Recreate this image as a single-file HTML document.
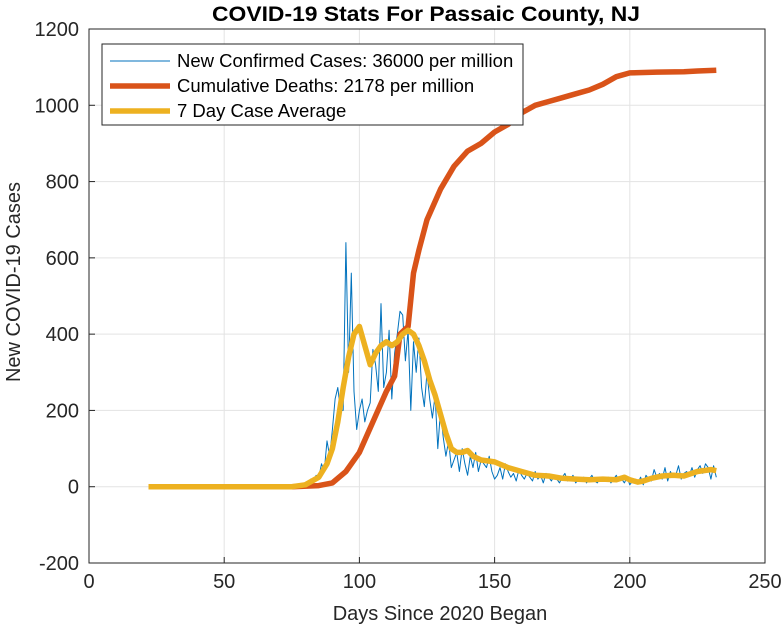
<!DOCTYPE html>
<html><head><meta charset="utf-8"><style>
html,body{margin:0;padding:0;background:#fff;}
svg{display:block;font-family:"Liberation Sans",Arial,sans-serif;}
</style></head><body>
<svg id="chart" width="784" height="630" viewBox="0 0 784 630"></svg>
<script>
// ---- data ----
const xTicks = [0, 50, 100, 150, 200, 250];
const yTicks = [-200, 0, 200, 400, 600, 800, 1000, 1200];
const caseStartDay = 22;
const cases = new Array(54).fill(0).concat([
0,2,5,3,8, 10,20,15,30,25, 60,40,120,80,150, 230,260,200,200,640,
300,560,250,150,200, 230,170,200,220,360, 320,250,480,260,300, 410,230,350,400,460,
450,330,410,200,380, 300,390,260,210,300, 230,180,240,100,200, 130,80,120,50,70,
90,40,100,60,30, 80,50,90,40,70, 60,50,80,40,20,
30,50,20,60,40,25,35,15,45,30, 20,35,25,15,40,20,30,10,35,25,
15,30,20,10,25,35,15,20,30,10, 20,15,25,10,20,30,15,10,25,20,
15,25,10,20,30,15,20,10,25,5, 15,20,10,25,5,30,20,15,45,25,
35,20,50,15,40,25,30,55,20,35, 40,30,50,25,45,55,35,60,50,20,55,25]);
const avgDays = [22,75,80,85,88,90,92,94,96,98,100,102,104,106,108,110,112,114,116,118,120,122,124,126,128,130,132,134,136,138,140,142,145,150,155,160,165,170,175,180,185,190,195,198,200,203,205,208,212,216,220,225,230,232];
const avgVals = [0,0,5,25,60,100,170,260,340,400,420,370,320,350,370,380,370,380,400,410,400,370,330,280,240,190,140,100,90,90,95,80,70,65,50,40,30,28,22,20,18,20,18,25,18,12,15,22,28,30,28,40,45,42];
const deathDays = [22,75,85,90,95,100,105,110,113,115,118,120,122,125,130,135,140,145,150,155,160,165,170,175,180,185,190,195,200,210,220,225,232];
const deathVals = [0,0,3,10,40,90,170,250,290,400,420,560,620,700,780,840,880,900,930,950,980,1000,1010,1020,1030,1040,1055,1075,1085,1087,1088,1090,1092];

// ---- axes ----
const L=89,R=765,T=29,B=563;
const xS=d=>L+(d-0)/(250-0)*(R-L);
const yS=v=>B-(v-(-200))/(1200-(-200))*(B-T);
const NS="http://www.w3.org/2000/svg";
const svg=document.getElementById('chart');
function mk(tag,attrs,parent){const e=document.createElementNS(NS,tag);for(const k in attrs)e.setAttribute(k,attrs[k]);(parent||svg).appendChild(e);return e;}

const bg=mk('rect',{x:L,y:T,width:R-L,height:B-T,fill:'#fff'});



xTicks.forEach(t=>{
  const g=mk('line',{x1:xS(t),x2:xS(t),y1:T,y2:B,stroke:'#e3e3e3','stroke-width':1});
  
  
  const tk=mk('line',{x1:xS(t),x2:xS(t),y1:B,y2:B-6,stroke:'#262626'});
  
  
  const tx=mk('text',{x:xS(t),y:B+25,'text-anchor':'middle','font-size':20,fill:'#262626'});
  tx.textContent=t;
  
  
});
yTicks.forEach(t=>{
  const g=mk('line',{x1:L,x2:R,y1:yS(t),y2:yS(t),stroke:'#e3e3e3','stroke-width':1});
  
  
  const tk=mk('line',{x1:L,x2:L+6,y1:yS(t),y2:yS(t),stroke:'#262626'});
  
  
  const tx=mk('text',{x:L-10,y:yS(t)+7,'text-anchor':'end','font-size':20,fill:'#262626'});
  tx.textContent=t;
  
  
});

function path(days,vals){return days.map((d,i)=>(i?'L':'M')+xS(d).toFixed(1)+','+yS(vals[i]).toFixed(1)).join('');}
const caseDays=cases.map((_,i)=>caseStartDay+i);
const p1=mk('path',{d:path(caseDays,cases),fill:'none',stroke:'#0072BD','stroke-width':1,'stroke-linejoin':'round'});


const p2=mk('path',{d:path(deathDays,deathVals),fill:'none',stroke:'#D95319','stroke-width':5.5,'stroke-linejoin':'round'});


const p3=mk('path',{d:path(avgDays,avgVals),fill:'none',stroke:'#EDB120','stroke-width':5.5,'stroke-linejoin':'round'});



const box=mk('rect',{x:L,y:T,width:R-L,height:B-T,fill:'none',stroke:'#262626','stroke-width':1});



// legend
const lg=mk('g',{});


mk('rect',{x:102,y:44,width:421,height:81,fill:'#fff',stroke:'#262626','stroke-width':1},lg);
const legItems=[['New Confirmed Cases: 36000 per million','#0072BD',1],['Cumulative Deaths: 2178 per million','#D95319',5.5],['7 Day Case Average','#EDB120',5.5]];
legItems.forEach((it,i)=>{
  const y=61+i*25;
  const e=mk('g',{},lg);
  
  
  mk('line',{x1:110,x2:170,y1:y,y2:y,stroke:it[1],'stroke-width':it[2]},e);
  const t=mk('text',{x:177,y:y+6,'font-size':18.5,fill:'#000'},e);
  t.textContent=it[0];
});
</script>
<svg width="784" height="630" style="position:absolute;left:0;top:0;pointer-events:none;font-family:'Liberation Sans',Arial,sans-serif;">
<text x="426" y="21" text-anchor="middle" font-size="21" font-weight="bold" fill="#000" textLength="428" lengthAdjust="spacingAndGlyphs">COVID-19 Stats For Passaic County, NJ</text>
<text x="440" y="620" text-anchor="middle" font-size="20" fill="#262626">Days Since 2020 Began</text>
<text transform="translate(20,282) rotate(-90)" text-anchor="middle" font-size="20" fill="#262626">New COVID-19 Cases</text>
</svg>
</body></html>
